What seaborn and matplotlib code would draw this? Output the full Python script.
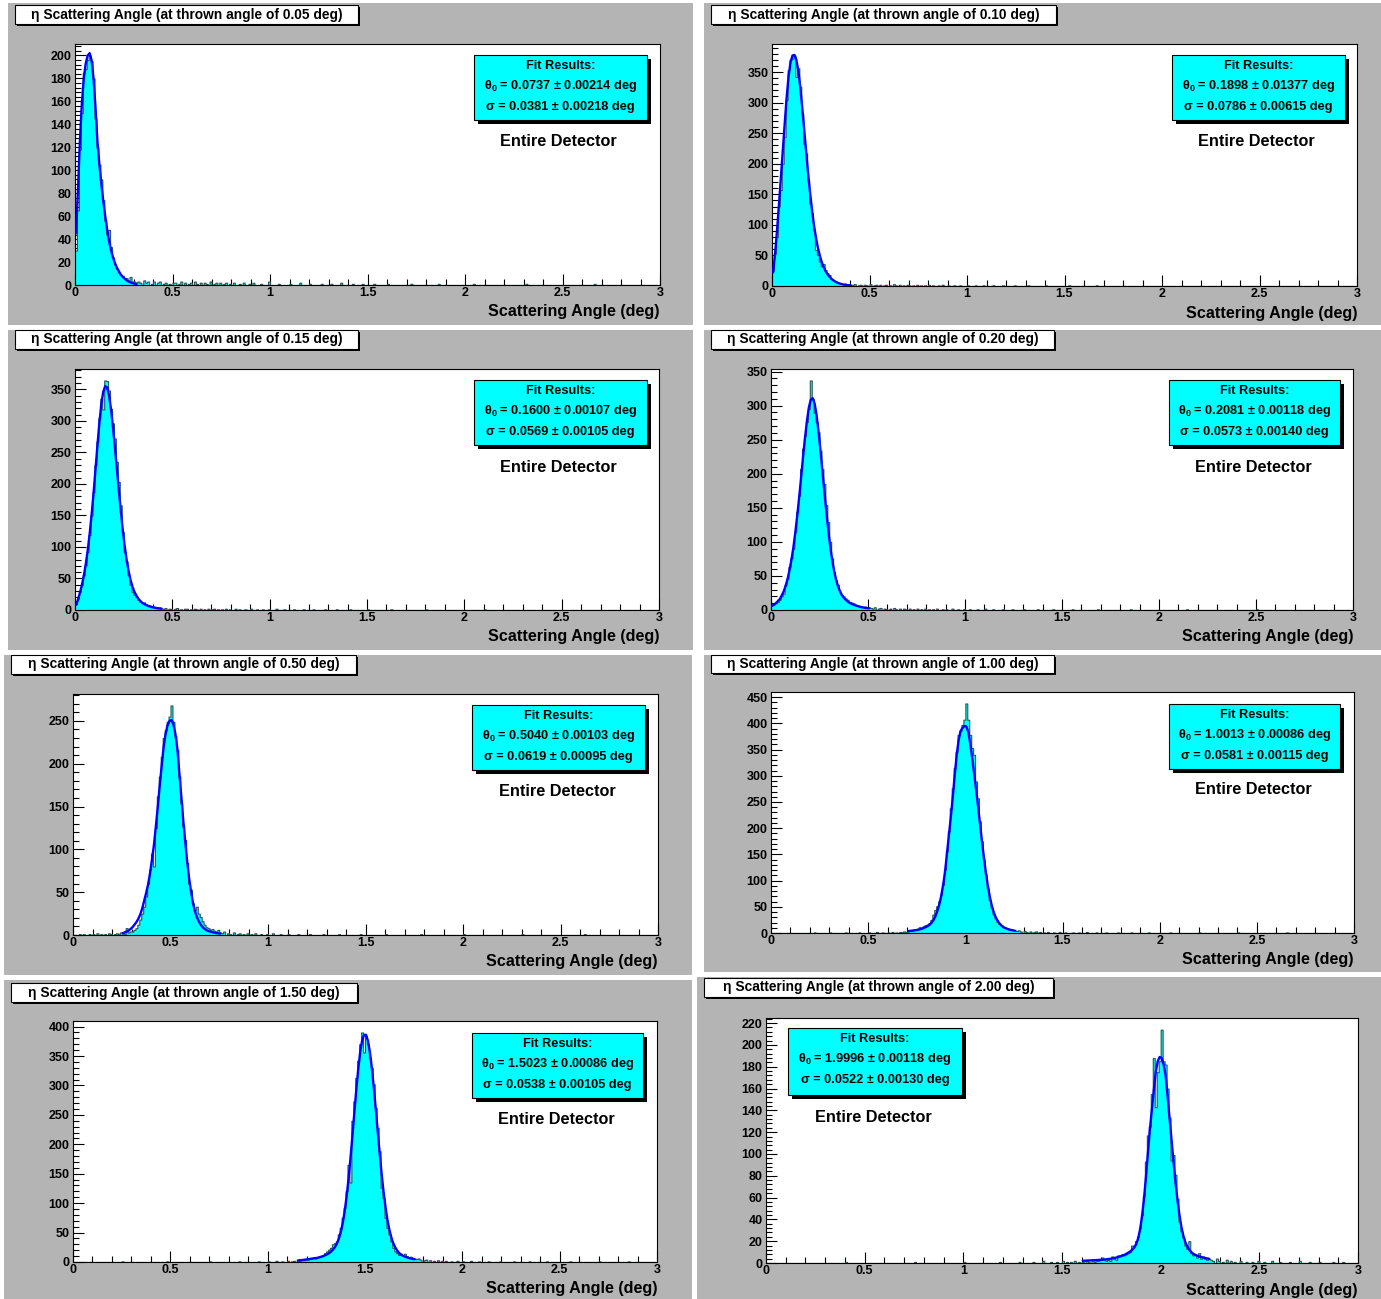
import matplotlib
matplotlib.use('Agg')
import matplotlib.pyplot as plt
from matplotlib.patches import Rectangle
from matplotlib.ticker import MultipleLocator, FuncFormatter
import numpy as np
import pandas as pd
import seaborn as sns

# ---------------- data ----------------
thrown = ['0.05', '0.10', '0.15', '0.20', '0.50', '1.00', '1.50', '2.00']
theta0 = ['0.0737', '0.1898', '0.1600', '0.2081', '0.5040', '1.0013', '1.5023', '1.9996']
theta0_err = ['0.00214', '0.01377', '0.00107', '0.00118', '0.00103', '0.00086', '0.00086', '0.00118']
sigma = ['0.0381', '0.0786', '0.0569', '0.0573', '0.0619', '0.0581', '0.0538', '0.0522']
sigma_err = ['0.00218', '0.00615', '0.00105', '0.00140', '0.00095', '0.00115', '0.00105', '0.00130']

# histograms use 0.01 deg bins from 0 to 3 deg; main block starts at first bin,
# sparse tail bins are given separately
p1_first = 0
p1_counts = [30, 65, 118, 150, 185, 188, 196, 200, 195, 180,
             145, 120, 105, 92, 74, 56, 44, 48, 33, 24,
             18, 14, 11, 9, 8, 6, 6, 4, 7, 3, 3, 2]
p1_fit = [45, 82, 125, 158, 180, 193, 200, 202, 196, 180,
          155, 125, 105, 88, 73, 60, 48, 38, 30, 24,
          19, 15, 12, 9, 7, 5.5, 4, 3, 2.2, 1.6, 1.1, 0.8]
p1_tail_bins = [32, 33, 35, 36, 37, 39, 40, 42, 43, 45, 46, 48, 50, 51, 53, 54, 56, 58, 59, 61,
                62, 64, 66, 67, 69, 71, 72, 74, 76, 77, 79, 81, 84, 86, 89, 91, 95, 99, 104, 110,
                115, 120, 126, 131, 136, 142, 147, 153, 160, 172, 186, 204, 231, 266]
p1_tail_counts = [3, 2, 4, 2, 3, 1, 3, 2, 3, 1, 2, 1, 2, 2, 1, 3, 2, 1, 2, 3,
                  1, 2, 2, 1, 3, 1, 2, 2, 1, 2, 1, 2, 1, 2, 1, 2, 1, 3, 1, 1,
                  2, 1, 1, 1, 2, 1, 1, 1, 1, 1, 1, 1, 1, 1]

p2_first = 0
p2_counts = [25, 53, 80, 130, 157, 200, 244, 304, 353, 370,
             372, 377, 342, 356, 326, 282, 233, 217, 173, 135,
             119, 92, 59, 51, 40, 32, 36, 26, 21, 18,
             12, 10, 8, 6, 5, 4, 3, 4, 2, 3, 2]
p2_fit = [22, 50, 88, 130, 175, 220, 265, 308, 343, 366,
          377, 378, 370, 352, 325, 292, 256, 220, 185, 153,
          125, 100, 80, 63, 50, 39, 31, 24, 19, 15,
          11.5, 9, 7, 5.5, 4.2, 3.3, 2.5, 1.9, 1.4, 1.0, 0.8]
p2_tail_bins = [41, 42, 44, 45, 47, 48, 50, 52, 53, 55, 57, 58, 60, 62, 63, 65, 67, 69, 70, 72,
                74, 76, 78, 80, 82, 85, 87, 90, 93, 96, 100, 104, 108, 113, 118, 124, 131, 140, 152, 166]
p2_tail_counts = [2, 3, 1, 2, 2, 1, 3, 1, 2, 2, 1, 2, 1, 3, 1, 2, 1, 2, 1, 1,
                  2, 1, 1, 2, 1, 1, 2, 1, 1, 1, 1, 1, 1, 1, 1, 1, 1, 1, 1, 1]

p3_first = 0
p3_counts = [9, 18, 29, 40, 55, 71, 92, 119, 150, 187,
             230, 267, 304, 335, 318, 364, 363, 348, 319, 296,
             272, 235, 203, 166, 124, 92, 77, 55, 40, 29,
             24, 21, 16, 13, 11, 12, 9, 8, 7, 6,
             5, 4, 3, 4, 2]
p3_fit = [8, 16, 27, 39, 54, 72, 94, 120, 150, 184,
          222, 260, 296, 326, 346, 355, 353, 340, 318, 290,
          258, 224, 190, 158, 128, 102, 80, 62, 48, 37,
          29, 23, 18, 14.5, 11.5, 9.5, 8, 6.5, 5.5, 4.6,
          3.9, 3.3, 2.8, 2.4, 2.0]
p3_tail_bins = [45, 46, 48, 49, 51, 52, 54, 56, 57, 59, 61, 62, 64, 66, 68, 70, 71, 73, 75, 77,
                79, 82, 84, 87, 90, 93, 96, 99, 103, 107, 112, 117, 122, 128, 134, 141, 150, 162, 180, 210]
p3_tail_counts = [2, 3, 2, 1, 2, 3, 1, 2, 2, 1, 2, 1, 2, 1, 2, 1, 2, 1, 1, 2,
                  1, 2, 1, 1, 2, 1, 1, 1, 2, 1, 1, 1, 1, 1, 1, 1, 1, 1, 1, 1]

p4_first = 0
p4_counts = [7, 8, 10, 12, 15, 20, 24, 37, 46, 63,
             76, 90, 115, 144, 168, 207, 237, 256, 276, 295,
             337, 310, 290, 276, 261, 234, 207, 185, 154, 129,
             100, 76, 56, 44, 37, 27, 22, 20, 17, 15,
             12, 11, 10, 8, 7, 6, 5, 4, 5, 3, 4]
p4_fit = [6, 8, 10, 13, 16, 21, 27, 35, 45, 58,
          73, 91, 113, 138, 165, 194, 224, 252, 277, 297,
          309, 311, 303, 286, 262, 234, 204, 174, 145, 118,
          94, 74, 58, 45, 35, 28, 22, 18, 15, 12.5,
          10.5, 9, 7.8, 6.7, 5.8, 5, 4.3, 3.7, 3.2, 2.8, 2.4]
p4_tail_bins = [51, 52, 53, 55, 56, 58, 59, 61, 63, 64, 66, 68, 69, 71, 73, 75, 77, 79, 81, 83,
                85, 88, 90, 93, 96, 99, 102, 106, 110, 114, 119, 124, 130, 137, 145, 155, 168, 185, 214, 250]
p4_tail_counts = [3, 2, 4, 2, 3, 2, 1, 2, 3, 1, 2, 2, 1, 2, 1, 2, 1, 2, 1, 1,
                  2, 1, 1, 2, 1, 1, 1, 1, 2, 1, 1, 1, 1, 1, 1, 1, 1, 1, 1, 1]

p5_first = 25
p5_counts = [2, 1, 8, 3, 4, 4, 6, 8, 12, 18,
             25, 33, 45, 60, 76, 95, 80, 125, 162, 185,
             208, 230, 239, 249, 255, 268, 249, 232, 216, 185,
             154, 127, 111, 84, 60, 53, 37, 29, 33, 25,
             21, 16, 12, 9, 8, 6, 7, 5, 4, 6, 3]
p5_fit = [2, 3, 4, 5, 7, 9, 12, 15, 19, 24,
          31, 40, 49, 59, 72, 88, 105, 127, 150, 175,
          198, 220, 235, 245, 250, 251, 246, 235, 218, 190,
          163, 135, 110, 87, 67, 51, 38, 28, 21, 16,
          12, 9, 7, 5.5, 4.5, 3.8, 3.2, 2.7, 2.3, 2, 1.7]
p5_tail_bins = [3, 5, 8, 10, 12, 14, 16, 18, 19, 21, 22, 23, 24,
                76, 77, 79, 80, 82, 84, 85, 87, 89, 91, 93, 96, 99, 102, 106, 110, 115, 121, 128, 136,
                147, 160, 178, 200, 230, 262]
p5_tail_counts = [1, 1, 1, 1, 2, 1, 1, 2, 1, 1, 2, 1, 3,
                  2, 4, 2, 1, 3, 1, 2, 1, 2, 1, 2, 1, 1, 2, 1, 1, 1, 1, 1, 1,
                  1, 1, 1, 1, 1, 1]

p6_first = 70
p6_counts = [3, 5, 4, 6, 7,
             8, 11, 10, 13, 15, 16, 19, 25, 35, 44,
             51, 60, 73, 92, 121, 156, 194, 238, 276, 315,
             346, 378, 385, 397, 407, 438, 407, 378, 353, 340,
             289, 257, 213, 175, 140, 112, 85, 63, 48, 36,
             28, 21, 17, 15, 11, 10, 8, 7, 6, 6, 5]
p6_fit = [3.5, 4, 4.5, 5, 5.5,
          6, 7, 8, 9.5, 11, 13, 15.5, 19, 24, 31,
          41, 53, 69, 90, 115, 150, 185, 220, 258, 300,
          338, 367, 385, 391, 395, 394, 384, 362, 335, 305,
          275, 243, 210, 177, 146, 117, 92, 71, 54, 41,
          31, 24, 18.5, 14.5, 11.5, 9.5, 8, 6.8, 5.8, 5, 4.3]
p6_tail_bins = [22, 30, 38, 45, 50, 54, 57, 60, 62, 64, 66, 67, 68, 69,
                126, 127, 128, 130, 131, 133, 135, 136, 138, 140, 142, 145, 148, 151, 155, 158,
                162, 167, 172, 178, 185, 194, 205, 220, 240, 265]
p6_tail_counts = [1, 1, 1, 1, 1, 2, 1, 1, 2, 1, 2, 1, 3, 2,
                  4, 5, 3, 4, 2, 3, 2, 3, 2, 1, 2, 1, 2, 1, 1, 1,
                  2, 1, 1, 1, 1, 1, 1, 1, 1, 1]

p7_first = 115
p7_counts = [3, 2, 4, 3, 5, 4, 5, 6, 7, 6,
             8, 9, 10, 11, 15, 18, 21, 24, 30, 32,
             35, 47, 58, 75, 92, 120, 165, 135, 240, 273,
             313, 342, 370, 390, 356, 384, 370, 347, 330, 302,
             262, 228, 188, 126, 109, 75, 58, 47, 35, 24,
             18, 15, 12, 14, 11, 14, 10, 8, 9, 7, 6]
p7_fit = [2.5, 3, 3.3, 3.7, 4.1, 4.6, 5.1, 5.6, 6.2, 6.6,
          7, 8, 9, 10, 11.5, 13, 15, 17.5, 21, 25,
          31, 39, 50, 65, 85, 110, 140, 175, 213, 253,
          292, 327, 356, 376, 386, 386, 376, 357, 330, 297,
          261, 223, 186, 151, 120, 94, 72, 55, 42, 32,
          25, 19.5, 15.5, 12.5, 10.5, 9, 7.8, 6.8, 6, 5.3, 4.7]
p7_tail_bins = [25, 48, 70, 85, 95, 100, 104, 107, 110, 112, 113,
                176, 177, 178, 180, 181, 183, 185, 187, 189, 191, 194, 197, 200, 204, 208, 213,
                219, 226, 234, 243, 255, 270, 285]
p7_tail_counts = [1, 1, 1, 1, 1, 1, 2, 1, 2, 1, 2,
                  5, 6, 4, 3, 4, 3, 2, 3, 2, 2, 1, 2, 1, 2, 1, 1,
                  1, 1, 1, 1, 1, 1, 1]

p8_first = 160
p8_counts = [1, 0, 2, 1, 0, 3, 1, 2, 2, 3,
             5, 3, 2, 3, 2, 6, 4, 3, 7, 7,
             8, 7, 8, 9, 10, 16, 15, 20, 24, 32,
             44, 62, 93, 117, 125, 155, 188, 143, 175, 185,
             214, 185, 182, 160, 133, 94, 99, 81, 59, 38,
             29, 23, 16, 13, 20, 9, 7, 8, 5, 9,
             4, 6, 4, 3, 4]
p8_fit = [2.0, 2.1, 2.2, 2.3, 2.4, 2.5, 2.6, 2.7, 2.8, 2.9,
          3, 3.2, 3.4, 3.6, 3.9, 4.2, 4.5, 5, 5.5, 6,
          6.7, 7.4, 8.3, 9.4, 10.5, 12, 14, 17, 22, 30,
          42, 58, 78, 100, 122, 140, 158, 175, 185, 189,
          188, 182, 172, 153, 133, 113, 93, 74, 58, 44,
          33, 25, 19, 15, 12, 10, 8.5, 7.5, 6.7, 6,
          5.5, 5, 4.6, 4.2, 3.9]
p8_tail_bins = [40, 75, 100, 118, 128, 135, 140, 144, 147, 150, 152, 154, 156, 158,
                225, 226, 228, 229, 231, 233, 235, 237, 240, 243, 246, 249, 252, 256, 260, 265,
                270, 275, 280, 287, 292]
p8_tail_counts = [1, 1, 1, 1, 1, 1, 2, 1, 1, 2, 1, 1, 2, 1,
                  3, 2, 4, 2, 1, 3, 2, 1, 2, 1, 1, 2, 1, 2, 1, 1,
                  2, 1, 1, 1, 1]

hists = [
    (p1_first, p1_counts, p1_fit, p1_tail_bins, p1_tail_counts),
    (p2_first, p2_counts, p2_fit, p2_tail_bins, p2_tail_counts),
    (p3_first, p3_counts, p3_fit, p3_tail_bins, p3_tail_counts),
    (p4_first, p4_counts, p4_fit, p4_tail_bins, p4_tail_counts),
    (p5_first, p5_counts, p5_fit, p5_tail_bins, p5_tail_counts),
    (p6_first, p6_counts, p6_fit, p6_tail_bins, p6_tail_counts),
    (p7_first, p7_counts, p7_fit, p7_tail_bins, p7_tail_counts),
    (p8_first, p8_counts, p8_fit, p8_tail_bins, p8_tail_counts),
]

# ---------------- layout (pixels of the 1381x1299 picture) ----------------
W, H = 1381, 1299
layout = [
    dict(bg=(8, 3, 693, 325), title=(15, 5, 358, 24), ax=(75, 44, 660, 285), box=(474, 55, 647, 120), ed=(558, 141)),
    dict(bg=(704, 3, 1381, 325), title=(711, 5, 1056, 24), ax=(772, 44, 1357, 286), box=(1172, 55, 1345, 120), ed=(1256, 142)),
    dict(bg=(8, 330, 693, 650), title=(15, 330, 358, 349), ax=(75, 369, 659, 610), box=(474, 380, 647, 445), ed=(558, 467)),
    dict(bg=(704, 330, 1381, 650), title=(711, 330, 1054, 349), ax=(771, 369, 1353, 610), box=(1169, 380, 1340, 445), ed=(1253, 467)),
    dict(bg=(4, 655, 692, 975), title=(11, 655, 356, 674), ax=(73, 694, 658, 935), box=(472, 705, 645, 770), ed=(557, 792)),
    dict(bg=(704, 655, 1381, 972), title=(711, 655, 1054, 673), ax=(771, 692, 1354, 933), box=(1169, 704, 1340, 769), ed=(1253, 790)),
    dict(bg=(4, 980, 692, 1299), title=(11, 983, 357, 1002), ax=(73, 1021, 657, 1262), box=(472, 1033, 643, 1098), ed=(556, 1119)),
    dict(bg=(697, 977, 1381, 1299), title=(704, 978, 1053, 997), ax=(766, 1018, 1358, 1263), box=(788, 1028, 962, 1095), ed=(873, 1117)),
]
y_major = [20, 50, 50, 50, 50, 50, 50, 20]

sns.set_theme(style='ticks')
plt.rcParams['font.family'] = ['Liberation Sans', 'DejaVu Sans']
plt.rcParams['font.weight'] = 'bold'
plt.rcParams['axes.linewidth'] = 0.8

PANEL_GRAY = '#b4b4b4'


def fig_rect(x0, y0, x1, y1):
    return (x0 / W, 1 - y1 / H, (x1 - x0) / W, (y1 - y0) / H)


def add_box(fig, rect, face, shadow, z):
    x0, y0, x1, y1 = rect
    sx, sy, sw, sh = fig_rect(x0 + shadow, y0 + shadow, x1 + shadow, y1 + shadow)
    fig.patches.append(Rectangle((sx, sy), sw, sh, transform=fig.transFigure,
                                 facecolor='black', edgecolor='none', zorder=z))
    bx, by, bw, bh = fig_rect(x0, y0, x1, y1)
    fig.patches.append(Rectangle((bx, by), bw, bh, transform=fig.transFigure,
                                 facecolor=face, edgecolor='black', linewidth=0.8, zorder=z + 0.1))


fig = plt.figure(figsize=(W / 100, H / 100), dpi=100, facecolor='white')
centers = np.arange(300) * 0.01 + 0.005

for i, (lay, (first, counts, fit, tb, tc)) in enumerate(zip(layout, hists)):
    # gray pad
    gx, gy, gw, gh = fig_rect(*lay['bg'])
    fig.patches.append(Rectangle((gx, gy), gw, gh, transform=fig.transFigure,
                                 facecolor=PANEL_GRAY, edgecolor='none', zorder=-5))

    # histogram contents
    h = np.zeros(300)
    h[first:first + len(counts)] = counts
    for b, c in zip(tb, tc, strict=True):
        h[b] = c
    assert len(fit) == len(counts)
    df = pd.DataFrame({'angle': centers, 'n': h})

    ax = fig.add_axes(fig_rect(*lay['ax']))
    ax.set_facecolor('white')
    sns.histplot(data=df, x='angle', weights='n', binwidth=0.01, binrange=(0, 3),
                 element='step', fill=True, color='#00ffff', alpha=1,
                 edgecolor='#2f5656', linewidth=0.8, ax=ax)
    fx = centers[first:first + len(fit)]
    sns.lineplot(x=fx, y=fit, color='#0000ff', linewidth=1.7, ax=ax, zorder=3)

    ax.set_xlim(0, 3)
    ax.set_ylim(0, 1.05 * max(counts))
    ax.set_xlabel('')
    ax.set_ylabel('')
    ax.xaxis.set_major_locator(MultipleLocator(0.5))
    ax.xaxis.set_minor_locator(MultipleLocator(0.1))
    ax.yaxis.set_major_locator(MultipleLocator(y_major[i]))
    ax.yaxis.set_minor_locator(MultipleLocator(y_major[i] / 5))
    ax.xaxis.set_major_formatter(FuncFormatter(lambda v, p: f'{v:g}'))
    ax.yaxis.set_major_formatter(FuncFormatter(lambda v, p: f'{v:g}'))
    ax.tick_params(axis='both', which='major', direction='in', length=8, width=0.8,
                   labelsize=9, colors='black', top=False, right=False)
    ax.tick_params(axis='both', which='minor', direction='in', length=4, width=0.8,
                   colors='black', top=False, right=False)
    ax.tick_params(axis='x', which='major', pad=1.5)
    ax.tick_params(axis='y', which='major', pad=2.5)
    for s in ax.spines.values():
        s.set_color('black')
        s.set_linewidth(0.8)
        s.set_visible(True)

    ax.text(1.0, -0.112, 'Scattering Angle (deg)', transform=ax.transAxes,
            ha='right', va='center', fontsize=11.6, fontweight='bold', color='black')

    # title box
    add_box(fig, lay['title'], 'white', 2, 4)
    tx0, ty0, tx1, ty1 = lay['title']
    fig.text((tx0 + tx1) / 2 / W, 1 - (ty0 + ty1) / 2 / H,
             f'\u03b7 Scattering Angle (at thrown angle of {thrown[i]} deg)',
             ha='center', va='center', fontsize=9.9, fontweight='bold', color='black', zorder=6)

    # fit results box
    add_box(fig, lay['box'], '#00ffff', 4, 4)
    bx0, by0, bx1, by1 = lay['box']
    cx = (bx0 + bx1) / 2 / W
    fig.text(cx, 1 - (by0 + 11) / H, 'Fit Results:', ha='center', va='center',
             fontsize=9.2, fontweight='bold', color='black', zorder=6)
    fig.text(cx, 1 - (by0 + 31) / H,
             r'$\mathregular{\theta_0}$' + f' = {theta0[i]} \u00b1 {theta0_err[i]} deg',
             ha='center', va='center', fontsize=9.2, fontweight='bold', color='black', zorder=6)
    fig.text(cx, 1 - (by0 + 52) / H,
             f'\u03c3 = {sigma[i]} \u00b1 {sigma_err[i]} deg',
             ha='center', va='center', fontsize=9.2, fontweight='bold', color='black', zorder=6)
    ex, ey = lay['ed']
    fig.text(ex / W, 1 - ey / H, 'Entire Detector', ha='center', va='center',
             fontsize=11.7, fontweight='bold', color='black', zorder=6)

fig.savefig('out.png', dpi=100, facecolor='white')
